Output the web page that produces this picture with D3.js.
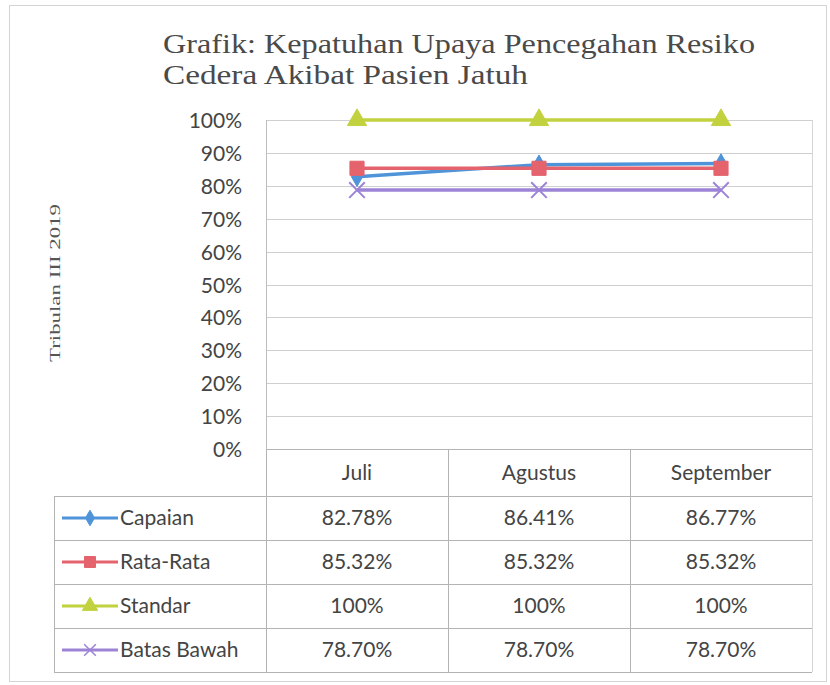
<!DOCTYPE html>
<html>
<head>
<meta charset="utf-8">
<script src="https://cdnjs.cloudflare.com/ajax/libs/d3/7.8.5/d3.min.js"></script>
<style>
  body { margin: 0; background: #fff; }
  svg { display: block; }
  .grid line { stroke: #cfcfcf; stroke-width: 1; }
  .tbl line { stroke: #b4b4b4; stroke-width: 1; }
</style>
</head>
<body>
<svg id="chart" width="830" height="685"></svg>
<script>
// data
var months = ["Juli", "Agustus", "September"];
var seriesNames = ["Capaian", "Rata-Rata", "Standar", "Batas Bawah"];
var capaian = [0.8278, 0.8641, 0.8677];
var rataRata = [0.8532, 0.8532, 0.8532];
var standar = [1.00, 1.00, 1.00];
var batasBawah = [0.7870, 0.7870, 0.7870];
var capaianLabels = ["82.78%", "86.41%", "86.77%"];
var rataRataLabels = ["85.32%", "85.32%", "85.32%"];
var standarLabels = ["100%", "100%", "100%"];
var batasBawahLabels = ["78.70%", "78.70%", "78.70%"];
var yTicks = [0, 0.1, 0.2, 0.3, 0.4, 0.5, 0.6, 0.7, 0.8, 0.9, 1.0];

var series = [
  { name: seriesNames[0], values: capaian, labels: capaianLabels, color: "#4f94d8", marker: "diamond" },
  { name: seriesNames[1], values: rataRata, labels: rataRataLabels, color: "#e4636c", marker: "square" },
  { name: seriesNames[2], values: standar, labels: standarLabels, color: "#c2d23e", marker: "triangle" },
  { name: seriesNames[3], values: batasBawah, labels: batasBawahLabels, color: "#9d83d6", marker: "cross" }
];

var svg = d3.select("#chart");
var sans = "Lato, 'Open Sans', sans-serif";
var serif = "'Liberation Serif', 'DejaVu Serif', serif";
var textCol = "#444";

// outer frame
svg.append("rect")
   .attr("x", 9.5).attr("y", 5.5)
   .attr("width", 817).attr("height", 676)
   .attr("fill", "none")
   .attr("stroke", "#d4d4d4");

// title
var title = svg.append("g").attr("fill", "#4a4a4a").style("font-family", serif).style("font-size", "27px");
title.append("text").attr("x", 163).attr("y", 53)
     .attr("textLength", 592).attr("lengthAdjust", "spacingAndGlyphs")
     .text("Grafik: Kepatuhan Upaya Pencegahan Resiko");
title.append("text").attr("x", 163).attr("y", 84)
     .attr("textLength", 365).attr("lengthAdjust", "spacingAndGlyphs")
     .text("Cedera Akibat Pasien Jatuh");

// axis title
svg.append("text")
   .attr("transform", "translate(60,283) rotate(-90)")
   .attr("text-anchor", "middle")
   .attr("fill", "#555")
   .style("font-family", serif)
   .style("font-size", "14px")
   .attr("textLength", 158).attr("lengthAdjust", "spacingAndGlyphs")
   .text("Tribulan III 2019");

var plotLeft = 266, plotRight = 812, plotTop = 120, plotBottom = 449;

var x = d3.scaleBand().domain(months).range([plotLeft, plotRight]).padding(0);
var y = d3.scaleLinear().domain([0, 1]).range([plotBottom, plotTop]);

// gridlines
svg.append("g").attr("class", "grid")
   .selectAll("line").data(yTicks).enter().append("line")
   .attr("x1", plotLeft).attr("x2", plotRight)
   .attr("y1", function(d) { return Math.round(y(d)) + 0.5; })
   .attr("y2", function(d) { return Math.round(y(d)) + 0.5; });

// y axis
var yAxis = d3.axisLeft(y).tickValues(yTicks).tickSize(0).tickPadding(0)
              .tickFormat(d3.format(".0%"));
var yg = svg.append("g")
   .attr("transform", "translate(242,0)")
   .call(yAxis);
yg.select(".domain").remove();
yg.selectAll("text")
  .attr("fill", textCol)
  .style("font-family", sans)
  .style("font-size", "21px")
  .attr("dy", "0.36em");

// left plot border
svg.append("line")
   .attr("x1", plotLeft + 0.5).attr("x2", plotLeft + 0.5)
   .attr("y1", plotTop).attr("y2", plotBottom)
   .attr("stroke", "#bdbdbd");

// lines
var line = d3.line()
  .x(function(d, i) { return x(months[i]) + x.bandwidth() / 2; })
  .y(function(d) { return y(d); });

var symbols = {
  diamond: d3.symbol().type(d3.symbolDiamond).size(110),
  square: d3.symbol().type(d3.symbolSquare).size(200),
  triangle: d3.symbol().type(d3.symbolTriangle).size(160),
  cross: d3.symbol().type(d3.symbolX).size(160)
};

series.forEach(function(s) {
  var g = svg.append("g");
  g.append("path")
   .attr("d", line(s.values))
   .attr("fill", "none")
   .attr("stroke", s.color)
   .attr("stroke-width", 3.5);
  g.selectAll("path.mk").data(s.values).enter().append("path")
   .attr("class", "mk")
   .attr("transform", function(d, i) {
     return "translate(" + (x(months[i]) + x.bandwidth() / 2) + "," + y(d) + ")";
   })
   .attr("d", symbols[s.marker]())
   .attr("fill", s.marker == "cross" ? "none" : s.color)
   .attr("stroke", s.color)
   .attr("stroke-width", s.marker == "cross" ? 2 : 1);
});

// data table
var tblLeft = 54, tblBottom = 672;
var rows = d3.scaleBand().domain(seriesNames).range([496, tblBottom]);
var tbl = svg.append("g").attr("class", "tbl");

// horizontal lines
tbl.append("line").attr("x1", plotLeft).attr("x2", plotRight).attr("y1", plotBottom + 0.5).attr("y2", plotBottom + 0.5);
seriesNames.forEach(function(n) {
  tbl.append("line").attr("x1", tblLeft).attr("x2", plotRight)
     .attr("y1", Math.round(rows(n)) + 0.5).attr("y2", Math.round(rows(n)) + 0.5);
});
tbl.append("line").attr("x1", tblLeft).attr("x2", plotRight).attr("y1", tblBottom + 0.5).attr("y2", tblBottom + 0.5);

// vertical lines
tbl.append("line").attr("x1", tblLeft + 0.5).attr("x2", tblLeft + 0.5).attr("y1", 496).attr("y2", tblBottom);
months.forEach(function(m) {
  tbl.append("line").attr("x1", Math.round(x(m)) + 0.5).attr("x2", Math.round(x(m)) + 0.5)
     .attr("y1", plotBottom).attr("y2", tblBottom);
});
tbl.append("line").attr("x1", plotRight + 0.5).attr("x2", plotRight + 0.5).attr("y1", plotTop).attr("y2", tblBottom)
   .style("stroke", "#d6d6d6");

// header
svg.append("g").selectAll("text").data(months).enter().append("text")
   .attr("x", function(d) { return x(d) + x.bandwidth() / 2; })
   .attr("y", (plotBottom + 496) / 2)
   .attr("dy", "0.35em")
   .attr("text-anchor", "middle")
   .attr("fill", textCol)
   .style("font-family", sans).style("font-size", "21px")
   .text(function(d) { return d; });

// rows
series.forEach(function(s) {
  var cy = rows(s.name) + rows.bandwidth() / 2;
  var g = svg.append("g");
  g.selectAll("text").data(s.labels).enter().append("text")
   .attr("x", function(d, i) { return x(months[i]) + x.bandwidth() / 2; })
   .attr("y", cy)
   .attr("dy", "0.35em")
   .attr("text-anchor", "middle")
   .attr("fill", textCol)
   .style("font-family", sans).style("font-size", "21px")
   .text(function(d) { return d; });

  // legend key
  g.append("line").attr("x1", 62).attr("x2", 118).attr("y1", cy).attr("y2", cy)
   .attr("stroke", s.color).attr("stroke-width", 3);
  var sc = { diamond: 70, square: 120, triangle: 100, cross: 90 }[s.marker];
  g.append("path")
   .attr("transform", "translate(90," + cy + ")")
   .attr("d", d3.symbol().type(symbols[s.marker].type()).size(sc)())
   .attr("fill", s.marker == "cross" ? "none" : s.color)
   .attr("stroke", s.color)
   .attr("stroke-width", s.marker == "cross" ? 1.5 : 1);
  g.append("text")
   .attr("x", 120).attr("y", cy).attr("dy", "0.35em")
   .attr("fill", textCol)
   .style("font-family", sans).style("font-size", "21px")
   .text(s.name);
});
</script>
</body>
</html>
